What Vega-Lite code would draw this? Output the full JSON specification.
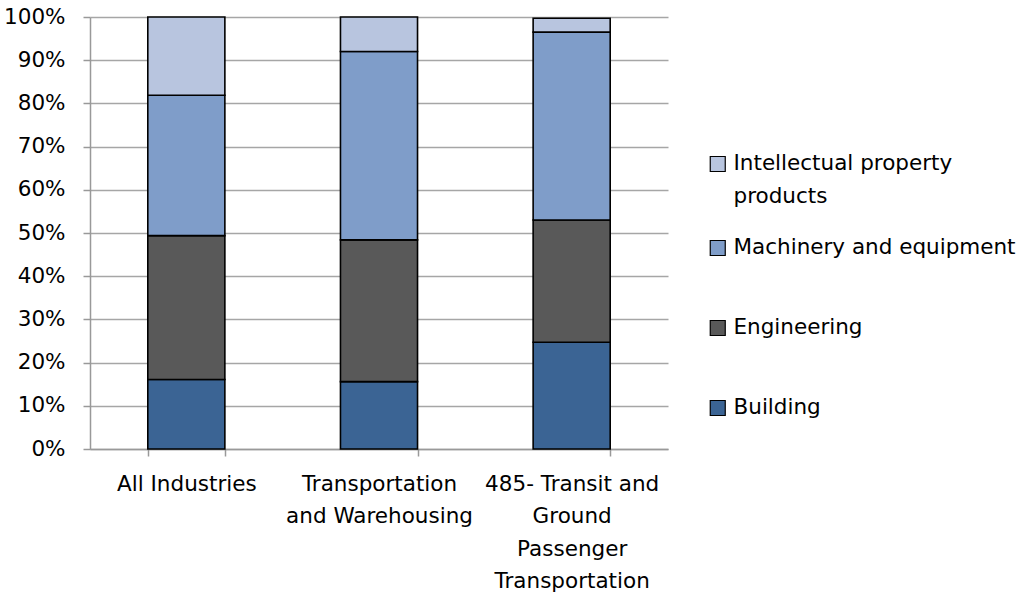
{
  "$schema": "https://vega.github.io/schema/vega-lite/v6.json",
  "width": 578,
  "height": 432,
  "autosize": {"type": "none"},
  "padding": {"left": 90, "top": 17, "right": 354, "bottom": 147},
  "background": "white",
  "config": {
    "font": "DejaVu Sans",
    "view": {"stroke": null},
    "style": {"guide-label": {"lineHeight": 33}}
  },
  "data": {
    "values": [
      {"industry": "All Industries", "asset": "Building", "ord": 1, "share": 0.161},
      {"industry": "All Industries", "asset": "Engineering", "ord": 2, "share": 0.333},
      {"industry": "All Industries", "asset": "Machinery and equipment", "ord": 3, "share": 0.325},
      {"industry": "All Industries", "asset": "Intellectual property products", "ord": 4, "share": 0.181},
      {"industry": "Transportation and Warehousing", "asset": "Building", "ord": 1, "share": 0.156},
      {"industry": "Transportation and Warehousing", "asset": "Engineering", "ord": 2, "share": 0.328},
      {"industry": "Transportation and Warehousing", "asset": "Machinery and equipment", "ord": 3, "share": 0.436},
      {"industry": "Transportation and Warehousing", "asset": "Intellectual property products", "ord": 4, "share": 0.080},
      {"industry": "485- Transit and Ground Passenger Transportation", "asset": "Building", "ord": 1, "share": 0.247},
      {"industry": "485- Transit and Ground Passenger Transportation", "asset": "Engineering", "ord": 2, "share": 0.283},
      {"industry": "485- Transit and Ground Passenger Transportation", "asset": "Machinery and equipment", "ord": 3, "share": 0.435},
      {"industry": "485- Transit and Ground Passenger Transportation", "asset": "Intellectual property products", "ord": 4, "share": 0.032}
    ]
  },
  "mark": {"type": "bar", "stroke": "black", "strokeWidth": 1.6},
  "encoding": {
    "x": {
      "field": "industry",
      "type": "nominal",
      "sort": null,
      "scale": {"paddingInner": 0.6, "paddingOuter": 0.3},
      "axis": {
        "title": null,
        "labelAngle": 0,
        "labelFontSize": 21.5,
        "labelColor": "black",
        "labelLineHeight": 32.5,
        "labelPadding": 17,
        "labelLimit": 300,
        "tickBand": "extent",
        "tickSize": 7,
        "tickColor": "#999999",
        "tickWidth": 1.5,
        "domainColor": "#999999",
        "domainWidth": 1.5,
        "labelExpr": "datum.label == 'Transportation and Warehousing' ? ['Transportation', 'and Warehousing'] : datum.label == '485- Transit and Ground Passenger Transportation' ? ['485- Transit and', 'Ground', 'Passenger', 'Transportation'] : datum.label"
      }
    },
    "y": {
      "field": "share",
      "type": "quantitative",
      "stack": true,
      "scale": {"domain": [0, 1], "nice": false},
      "axis": {
        "title": null,
        "format": ".0%",
        "values": [0, 0.1, 0.2, 0.3, 0.4, 0.5, 0.6, 0.7, 0.8, 0.9, 1],
        "labelFontSize": 21.5,
        "labelColor": "black",
        "labelPadding": 18,
        "tickSize": 7,
        "tickColor": "#999999",
        "tickWidth": 1.5,
        "domainColor": "#999999",
        "domainWidth": 1.5,
        "grid": true,
        "gridColor": "#A6A6A6",
        "gridWidth": 1.5
      }
    },
    "color": {
      "field": "asset",
      "type": "nominal",
      "scale": {
        "domain": ["Intellectual property products", "Machinery and equipment", "Engineering", "Building"],
        "range": ["#B8C5DF", "#7F9DC9", "#595959", "#3B6494"]
      },
      "legend": {
        "title": null,
        "orient": "none",
        "legendX": 617,
        "legendY": 107,
        "symbolType": "square",
        "symbolSize": 225,
        "symbolStrokeColor": "black",
        "symbolStrokeWidth": 1.2,
        "symbolOpacity": 1,
        "labelFontSize": 21.5,
        "labelColor": "black",
        "labelOffset": 5,
        "labelLimit": 400,
        "labelBaseline": "middle",
        "clipHeight": 80,
        "rowPadding": 0,
        "labelExpr": "datum.label == 'Intellectual property products' ? ['Intellectual property', 'products'] : datum.label"
      }
    },
    "order": {"field": "ord", "type": "quantitative"}
  }
}
